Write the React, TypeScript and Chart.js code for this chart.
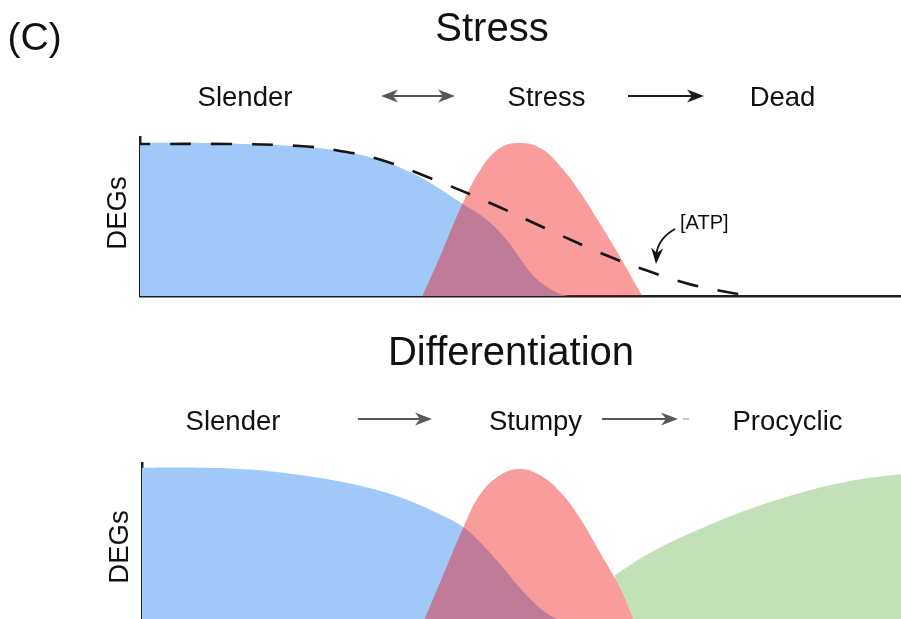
import React, { useEffect, useRef } from 'react';
import { Chart, registerables } from 'chart.js';

// ---------------- data ----------------
// x: progression along the time course (0–100), y: relative number of DEGs (0–1)
const panelLabel = '(C)';
const stressTitle = 'Stress';
const diffTitle = 'Differentiation';
const stressStages = ['Slender', 'Stress', 'Dead'];
const diffStages = ['Slender', 'Stumpy', 'Procyclic'];
const yAxisLabel = 'DEGs';
const atpLabel = '[ATP]';

// Stress panel
const stressSlenderX = [0, 7.9, 15.8, 21.0, 26.3, 31.5, 35.5, 38.8, 42.0, 45.6, 48.2, 49.9, 51.6, 53.5, 55.6, 56.8];
const stressSlenderY = [1.0, 1.0, 0.99, 0.977, 0.948, 0.889, 0.81, 0.719, 0.614, 0.497, 0.366, 0.248, 0.137, 0.059, 0.007, 0];
const stressStressX = [37.1, 39.4, 42.0, 44.7, 47.3, 49.9, 52.6, 55.2, 57.8, 60.4, 63.1, 65.7, 66.1];
const stressStressY = [0, 0.255, 0.562, 0.824, 0.967, 1.0, 0.967, 0.85, 0.68, 0.477, 0.255, 0.026, 0];
const atpX = [0, 11.8, 21.0, 26.3, 31.5, 38.1, 46.0, 53.6, 61.5, 66.8, 72.3, 77.8, 80.4];
const atpY = [0.993, 0.993, 0.98, 0.948, 0.892, 0.771, 0.608, 0.435, 0.261, 0.163, 0.076, 0.02, 0];

// Differentiation panel
const diffSlenderX = [0, 7.6, 14.2, 20.8, 26.1, 31.4, 35.3, 38.6, 42.3, 44.9, 47.6, 49.8, 52.4, 54.4, 56.4];
const diffSlenderY = [1.0, 1.0, 0.988, 0.953, 0.911, 0.85, 0.786, 0.715, 0.618, 0.502, 0.354, 0.225, 0.097, 0.032, 0];
const diffStumpyX = [37.0, 39.3, 42.3, 44.5, 47.2, 49.8, 52.4, 55.1, 57.7, 60.3, 63.0, 64.7, 65.1];
const diffStumpyY = [0, 0.264, 0.612, 0.824, 0.953, 0.992, 0.953, 0.844, 0.676, 0.457, 0.225, 0.032, 0];
const diffProcyclicX = [62.3, 66.9, 73.5, 80.1, 86.7, 93.3, 100];
const diffProcyclicY = [0.309, 0.451, 0.605, 0.734, 0.837, 0.914, 0.959];

// ---------------- styles / layout ----------------
const BLUE = 'rgb(160,200,248)';
const RED = 'rgba(237,8,8,0.4)';
const GREEN = 'rgb(194,225,185)';
const INK = '#111111';
const FONT = "'Liberation Sans', Arial, Helvetica, sans-serif";
const W = 901;
const H = 320;

// Clip a dataset so that it is not painted inside another dataset's filled area.
// Registered before the built-ins so it runs before the filler draws.
const excludeOverlapPlugin = {
  id: 'excludeOverlap',
  beforeDatasetDraw(chart: any, args: any) {
    const ds = chart.data.datasets[args.index];
    if (ds.clipOutside === undefined) return;
    const other = chart.getDatasetMeta(ds.clipOutside);
    const line = other.dataset;
    const pts = other.data;
    if (!line || !pts.length) return;
    const { ctx, chartArea: a } = chart;
    const base = chart.scales.y.getPixelForValue(0);
    line.updateControlPoints(a, 'x');
    ctx.save();
    ctx.beginPath();
    ctx.rect(a.left, a.top, a.right - a.left, a.bottom - a.top);
    line.path(ctx);
    ctx.lineTo(pts[pts.length - 1].x, base);
    ctx.lineTo(pts[0].x, base);
    ctx.closePath();
    ctx.clip('evenodd');
    chart.$excludeSaved = true;
  },
  afterDatasetDraw(chart: any) {
    if (chart.$excludeSaved) {
      chart.ctx.restore();
      chart.$excludeSaved = false;
    }
  },
};

Chart.register(excludeOverlapPlugin as any);
Chart.register(...registerables);

function area(xs: number[], ys: number[], color: string, order: number, extra: any = {}) {
  return {
    data: xs.map((x, i) => ({ x, y: ys[i] })),
    backgroundColor: color,
    borderColor: color,
    borderWidth: 0,
    pointRadius: 0,
    fill: 'origin',
    tension: 0.4,
    order,
    ...extra,
  };
}

function text(ctx: CanvasRenderingContext2D, s: string, x: number, y: number, size: number, align: CanvasTextAlign = 'center') {
  ctx.font = `${size}px ${FONT}`;
  ctx.fillStyle = INK;
  ctx.textAlign = align;
  ctx.textBaseline = 'alphabetic';
  ctx.fillText(s, x, y);
}

function vText(ctx: CanvasRenderingContext2D, s: string, x: number, y: number, size: number) {
  ctx.save();
  ctx.translate(x, y);
  ctx.rotate(-Math.PI / 2);
  text(ctx, s, 0, 0, size);
  ctx.restore();
}

function head(ctx: CanvasRenderingContext2D, x: number, y: number, ang: number, color: string, len = 17, half = 6.5, notch = 5) {
  ctx.save();
  ctx.translate(x, y);
  ctx.rotate(ang);
  ctx.beginPath();
  ctx.moveTo(0, 0);
  ctx.lineTo(-len, -half);
  ctx.lineTo(-len + notch, 0);
  ctx.lineTo(-len, half);
  ctx.closePath();
  ctx.fillStyle = color;
  ctx.fill();
  ctx.restore();
}

function arrow(ctx: CanvasRenderingContext2D, x1: number, x2: number, y: number, color: string, both = false) {
  ctx.save();
  ctx.strokeStyle = color;
  ctx.lineWidth = 2;
  ctx.beginPath();
  ctx.moveTo(both ? x1 + 9 : x1, y);
  ctx.lineTo(x2 - 9, y);
  ctx.stroke();
  ctx.restore();
  head(ctx, x2, y, 0, color);
  if (both) head(ctx, x1, y, Math.PI, color);
}

function decor(draw: (ctx: CanvasRenderingContext2D) => void) {
  return {
    id: 'decor',
    afterDraw(chart: any) {
      const ctx = chart.ctx as CanvasRenderingContext2D;
      ctx.save();
      draw(ctx);
      ctx.restore();
    },
  };
}

function baseOptions(pad: any, yMax: number) {
  const axis = (w: number) => ({
    ticks: { display: false },
    grid: { display: false, drawTicks: false },
    border: { display: true, color: '#1e1e1e', width: w },
  });
  return {
    animation: false,
    responsive: false,
    maintainAspectRatio: false,
    events: [],
    layout: { padding: pad },
    scales: {
      x: { type: 'linear', min: 0, max: 100, ...axis(2.5) },
      y: { type: 'linear', min: 0, max: yMax, ...axis(2.5) },
    },
    plugins: {
      legend: { display: false },
      tooltip: { enabled: false },
      title: { display: false },
    },
  };
}

export default function App() {
  const topRef = useRef<HTMLCanvasElement>(null);
  const botRef = useRef<HTMLCanvasElement>(null);

  useEffect(() => {
    const top = new Chart(topRef.current as HTMLCanvasElement, {
      type: 'line',
      data: {
        datasets: [
          area(stressSlenderX, stressSlenderY, BLUE, 4),
          area(stressStressX, stressStressY, RED, 2),
          {
            data: atpX.map((x, i) => ({ x, y: atpY[i] })),
            borderColor: '#161616',
            borderWidth: 2.6,
            borderDash: [21, 20],
            borderDashOffset: 11,
            borderCapStyle: 'butt',
            pointRadius: 0,
            fill: false,
            tension: 0.4,
            order: 1,
          },
        ],
      } as any,
      options: baseOptions({ left: 140, top: 137, right: 0, bottom: H - 296 }, 1.039) as any,
      plugins: [
        decor((ctx) => {
          text(ctx, panelLabel, 7.5, 50, 39, 'left');
          text(ctx, stressTitle, 492, 41, 40);
          const sx = [245, 546.5, 782.5];
          stressStages.forEach((s, i) => text(ctx, s, sx[i], 106, 27.5));
          arrow(ctx, 381, 455, 96, '#555555', true);
          arrow(ctx, 628, 704, 96, '#1a1a1a');
          vText(ctx, yAxisLabel, 126, 213, 27.5);
          text(ctx, atpLabel, 680, 229, 20, 'left');
          // curved pointer to the [ATP] curve
          ctx.strokeStyle = '#111';
          ctx.lineWidth = 1.8;
          ctx.beginPath();
          ctx.moveTo(675, 229);
          ctx.quadraticCurveTo(659, 238, 656.5, 253);
          ctx.stroke();
          head(ctx, 656, 264, Math.atan2(11, -0.8), '#111', 16, 6, 5);
        }),
      ],
    });

    const bot = new Chart(botRef.current as HTMLCanvasElement, {
      type: 'line',
      data: {
        datasets: [
          area(diffSlenderX, diffSlenderY, BLUE, 4),
          area(diffStumpyX, diffStumpyY, RED, 2),
          area(diffProcyclicX, diffProcyclicY, GREEN, 3, { clipOutside: 1 }),
        ],
      } as any,
      options: baseOptions({ left: 142, top: 143, right: 0, bottom: 17 }, 1.03) as any,
      plugins: [
        decor((ctx) => {
          text(ctx, diffTitle, 511, 45, 40);
          const sx = [233, 535.5, 787.5];
          diffStages.forEach((s, i) => text(ctx, s, sx[i], 110, 27.5));
          arrow(ctx, 358, 432, 99, '#5a5a5a');
          arrow(ctx, 602, 678, 99, '#5a5a5a');
          ctx.fillStyle = '#c4c4c4';
          ctx.fillRect(683, 98, 6, 2);
          vText(ctx, yAxisLabel, 128, 227, 27.5);
        }),
      ],
    });

    return () => {
      top.destroy();
      bot.destroy();
    };
  }, []);

  return (
    <div style={{ position: 'fixed', left: 0, top: 0, width: W, height: 619, overflow: 'hidden', background: '#fff' }}>
      <canvas ref={topRef} width={W} height={H} style={{ position: 'absolute', left: 0, top: 0, width: W, height: H }} />
      <canvas ref={botRef} width={W} height={H} style={{ position: 'absolute', left: 0, top: 320, width: W, height: H }} />
    </div>
  );
}
